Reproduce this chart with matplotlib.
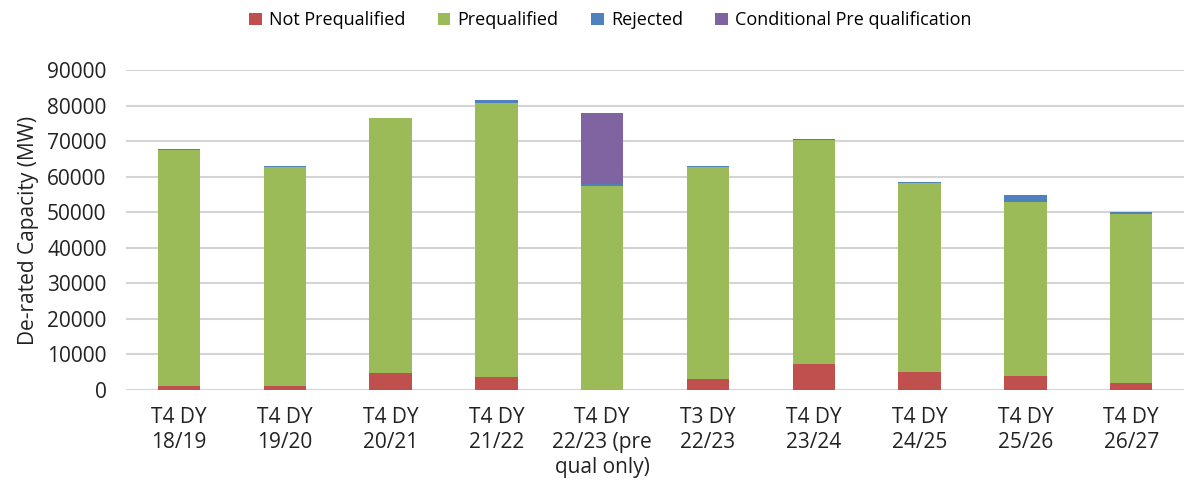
import matplotlib.pyplot as plt
import numpy as np

categories = ['T4 DY\n18/19', 'T4 DY\n19/20', 'T4 DY\n20/21', 'T4 DY\n21/22',
              'T4 DY\n22/23 (pre\nqual only)', 'T3 DY\n22/23', 'T4 DY\n23/24',
              'T4 DY\n24/25', 'T4 DY\n25/26', 'T4 DY\n26/27']
not_prequalified = [1200, 1200, 4800, 3700, 0, 3000, 7300, 5200, 4000, 1900]
prequalified = [66200, 61500, 71600, 77100, 57300, 59700, 63000, 53000, 48900, 47700]
rejected = [300, 400, 100, 900, 600, 300, 0, 400, 2100, 400]
conditional = [0, 0, 0, 0, 20000, 0, 300, 0, 0, 0]

plt.rcParams['font.family'] = ['Open Sans', 'DejaVu Sans']

fig = plt.figure(figsize=(11.85, 4.94), dpi=100)
ax = fig.add_axes([0.1063, 0.2105, 0.893, 0.6475])

x = np.arange(len(categories))
w = 0.4
bottom = np.zeros(len(categories))
series = [('Not Prequalified', not_prequalified, '#C0504D'),
          ('Prequalified', prequalified, '#9BBB59'),
          ('Rejected', rejected, '#4F81BD'),
          ('Conditional Pre qualification', conditional, '#8064A2')]
for name, vals, col in series:
    vals = np.array(vals, dtype=float)
    ax.bar(x, vals, w, bottom=bottom, color=col, label=name, zorder=3, linewidth=0)
    bottom += vals

ax.set_xlim(-0.5, len(categories) - 0.5)
ax.set_ylim(0, 90000)
ax.set_yticks(np.arange(0, 90001, 10000))
ax.set_xticks(x)
ax.set_xticklabels(categories, fontsize=15, color='#222222', linespacing=1.25)
ax.tick_params(axis='y', labelsize=15, colors='#222222', length=0, pad=14)
ax.tick_params(axis='x', length=0, pad=12)
ax.grid(axis='y', color='#D4D4D4', linewidth=1.5, zorder=0)
for s in ax.spines.values():
    s.set_visible(False)
ax.set_ylabel('De-rated Capacity (MW)', fontsize=15, color='#222222', labelpad=6)

fig.legend(loc='upper center', bbox_to_anchor=(0.515, 1.01), ncol=4, frameon=False,
           fontsize=13, handlelength=0.7, handleheight=0.7, handletextpad=0.4,
           columnspacing=1.8)

fig.savefig('out.png', dpi=100)
